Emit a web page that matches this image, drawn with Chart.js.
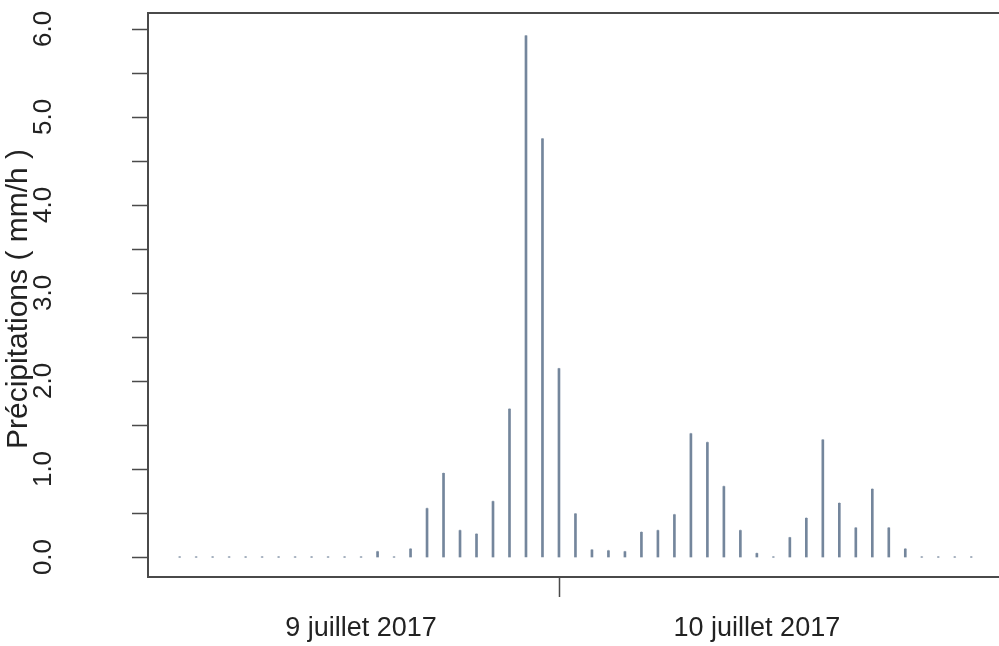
<!DOCTYPE html>
<html>
<head>
<meta charset="utf-8">
<script src="https://cdn.jsdelivr.net/npm/chart.js@4.4.0/dist/chart.umd.min.js"></script>
<style>
    html, body { margin: 0; padding: 0; background: #fff; }
    #wrap { width: 999px; height: 646px; }
</style>
</head>
<body>
<div id="wrap"><canvas id="rainChart"></canvas></div>
<script>
// hours counted from 9 July 2017 00:00
const hours = [1, 2, 3, 4, 5, 6, 7, 8, 9, 10, 11, 12, 13, 14, 15, 16, 17, 18, 19, 20,
    21, 22, 23, 24, 25, 26, 27, 28, 29, 30, 31, 32, 33, 34, 35, 36, 37, 38, 39, 40,
    41, 42, 43, 44, 45, 46, 47, 48, 49];
// hourly precipitation (mm/h)
const rain = [0, 0, 0, 0, 0, 0, 0, 0, 0, 0, 0, 0, 0.06, 0, 0.09, 0.55, 0.95, 0.30, 0.26, 0.63,
    1.68, 5.92, 4.75, 2.14, 0.49, 0.08, 0.07, 0.06, 0.28, 0.30, 0.48, 1.40, 1.30, 0.80, 0.30, 0.04, 0, 0.22, 0.44, 1.33,
    0.61, 0.33, 0.77, 0.33, 0.09, 0, 0, 0, 0];
const yTicks = [0, 0.5, 1, 1.5, 2, 2.5, 3, 3.5, 4, 4.5, 5, 5.5, 6];
const yLabels = [0, 1, 2, 3, 4, 5, 6];
const dayBreaks = [24];
const dayLabelHours = [12, 36];
const dayLabels = ['9 juillet 2017', '10 juillet 2017'];

const FONT = '"Liberation Sans", Arial, sans-serif';
const INK = '#222';
const FRAME = '#4a4a4a';

// R-style frame, ticks and labels
const axesPlugin = {
    id: 'rAxes',
    afterDraw(chart) {
        const ctx = chart.ctx;
        const area = chart.chartArea;
        const xs = chart.scales.x;
        const ys = chart.scales.y;
        ctx.save();
        ctx.strokeStyle = FRAME;
        ctx.lineWidth = 2;
        ctx.beginPath();
        ctx.moveTo(chart.width, area.top);
        ctx.lineTo(area.left, area.top);
        ctx.lineTo(area.left, area.bottom);
        ctx.lineTo(chart.width, area.bottom);
        ctx.stroke();

        // ticks
        ctx.lineWidth = 1.5;
        ctx.beginPath();
        yTicks.forEach(v => {
            const y = Math.round(ys.getPixelForValue(v)) + 0.5;
            ctx.moveTo(area.left, y);
            ctx.lineTo(area.left - 16, y);
        });
        dayBreaks.forEach(h => {
            const x = Math.round(xs.getPixelForValue(h)) + 0.5;
            ctx.moveTo(x, area.bottom);
            ctx.lineTo(x, area.bottom + 20);
        });
        ctx.stroke();

        ctx.fillStyle = INK;
        ctx.textAlign = 'center';
        ctx.textBaseline = 'middle';
        ctx.font = '26px ' + FONT;
        yLabels.forEach(v => {
            const y = ys.getPixelForValue(v);
            ctx.save();
            ctx.translate(44, y);
            ctx.rotate(-Math.PI / 2);
            ctx.fillText(v.toFixed(1), 0, 0);
            ctx.restore();
        });
        ctx.font = '27px ' + FONT;
        dayLabels.forEach((lab, i) => {
            ctx.fillText(lab, xs.getPixelForValue(dayLabelHours[i]), 629);
        });

        ctx.font = '30px ' + FONT;
        ctx.save();
        ctx.translate(19, (area.top + area.bottom) / 2 + 4);
        ctx.rotate(-Math.PI / 2);
        ctx.fillText('Précipitations ( mm/h )', 0, 0);
        ctx.restore();
        ctx.restore();
    }
};

const ctx = document.getElementById('rainChart');
new Chart(ctx, {
    type: 'bar',
    data: {
        datasets: [{
            type: 'bar',
            data: hours.map((h, i) => ({ x: h, y: rain[i] })),
            backgroundColor: '#74869c',
            barThickness: 2,
            grouped: false
        }, {
            type: 'scatter',
            data: hours.map((h, i) => ({ x: h, y: rain[i] })),
            pointRadius: 1,
            pointBorderWidth: 0,
            backgroundColor: 'rgba(116,134,156,0.5)'
        }]
    },
    options: {
        responsive: true,
        maintainAspectRatio: false,
        animation: false,
        layout: { padding: { left: 148, top: 13, right: 0, bottom: 69 } },
        plugins: {
            legend: { display: false },
            tooltip: { enabled: false }
        },
        scales: {
            x: { type: 'linear', display: false, min: -0.92, max: 50.44, offset: false },
            y: { type: 'linear', display: false, min: -0.227, max: 6.18 }
        }
    },
    plugins: [axesPlugin]
});
</script>
</body>
</html>
